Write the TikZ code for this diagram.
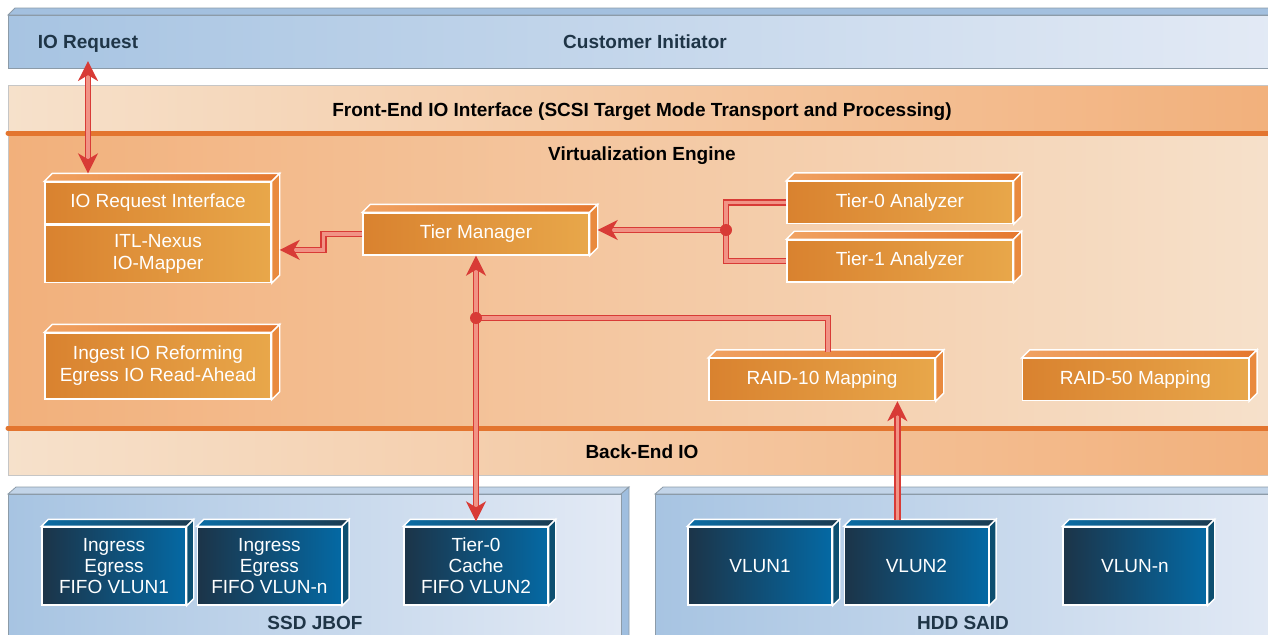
\documentclass[tikz,border=0pt]{standalone}
\usepackage{fontspec}
\setmainfont{Liberation Sans}
\usetikzlibrary{arrows.meta,positioning}

\definecolor{barblueL}{HTML}{A7C4E2}
\definecolor{barblueR}{HTML}{E3EAF5}
\definecolor{bartop}{HTML}{A3C0DF}
\definecolor{bartoplight}{HTML}{C2D4E8}
\definecolor{barside}{HTML}{9FBEDF}
\definecolor{bargray}{HTML}{8C9BA8}
\definecolor{peach}{HTML}{F6E1CB}
\definecolor{apricot}{HTML}{F2B07B}
\definecolor{rule}{HTML}{E3752F}
\definecolor{boxL}{HTML}{D9822F}
\definecolor{boxR}{HTML}{E8A74A}
\definecolor{boxtopL}{HTML}{F0A262}
\definecolor{boxtopR}{HTML}{E5782F}
\definecolor{boxside}{HTML}{E98A3E}
\definecolor{lunL}{HTML}{1C3448}
\definecolor{lunR}{HTML}{0469A4}
\definecolor{luntopL}{HTML}{0B6DA5}
\definecolor{luntopR}{HTML}{1B3A50}
\definecolor{lunside}{HTML}{0D4F70}
\definecolor{linkred}{HTML}{D83B36}
\definecolor{linkpink}{HTML}{F19385}
\definecolor{slate}{HTML}{1F3547}

\begin{document}
\begin{tikzpicture}[x=0.5pt, y=-0.5pt,
    bandlbl/.style={font=\bfseries\fontsize{9.5}{11}\selectfont, text height=7pt, text depth=0pt},
    engbox/.style={draw=white, line width=0.7pt, left color=boxL, right color=boxR, text=white,
      font=\fontsize{9.5}{11}\selectfont, align=center, inner sep=0pt,
      minimum width=113pt, minimum height=21pt},
    lunbox/.style={draw=white, line width=0.7pt, left color=lunL, right color=lunR, text=white,
      font=\fontsize{9.5}{10.5}\selectfont, align=center, inner sep=0pt,
      minimum width=72pt, minimum height=39pt},
    link/.style={draw=linkred, double=linkpink, double distance=1.6pt, line width=0.9pt},
    redtip/.tip={Stealth[length=10pt, width=10pt, inset=3pt]},
    arr/.style={link, -redtip},
    dblarr/.style={link, redtip-redtip},
    joint/.style={circle, fill=linkred, inner sep=0pt, minimum size=6pt}]

    \useasboundingbox (0,0) rectangle (1268,634);
    \clip (0,0) rectangle (1268,634);

    % Customer initiator bar
    \draw[bargray, fill=bartop] (8,15) -- (15,8) -- (1280,8) -- (1280,15) -- cycle;
    \draw[bargray, left color=barblueL, right color=barblueR] (8,15) rectangle (1280,68);

    % Front-end, virtualization and back-end bands
    \fill[left color=peach, right color=apricot] (8,85) rectangle (1280,133);
    \fill[left color=apricot, right color=peach] (8,133) rectangle (1280,428);
    \fill[left color=peach, right color=apricot] (8,428) rectangle (1280,475);
    \draw[gray!45] (1280,85) -- (8,85) -- (8,475) -- (1280,475);
    \draw[rule, line width=2.5pt, line cap=round] (8,133) -- (1280,133);
    \draw[rule, line width=2.5pt, line cap=round] (8,428) -- (1280,428);

    % Storage enclosures
    \foreach \xa/\xb in {8/621, 655/1290} {
        \draw[bargray, fill=bartoplight] (\xa,494) -- ++(8,-7) -- (\xb+8,487) -- (\xb,494) -- cycle;
        \draw[bargray, fill=barside] (\xb,494) -- ++(8,-7) -- (\xb+8,640) -- (\xb,640) -- cycle;
        \draw[bargray, left color=barblueL, right color=barblueR] (\xa,494) rectangle (\xb,640);
    }

    % Band labels
    \node[bandlbl, text=slate] (ioreqlbl) at (88,41) {IO Request};
    \node[bandlbl, text=slate] (custlbl) at (645,41) {Customer Initiator};
    \node[bandlbl] (frontlbl) at (642,109) {Front-End IO Interface (SCSI Target Mode Transport and Processing)};
    \node[bandlbl] (virtlbl) at (642,153) {Virtualization Engine};
    \node[bandlbl] (backlbl) at (642,451) {Back-End IO};
    \node[bandlbl, text=slate] (ssdlbl) at (315,622) {SSD JBOF};
    \node[bandlbl, text=slate] (hddlbl) at (963,622) {HDD SAID};

    % Engine blocks
    \node[engbox] (ioreq) at (158,203) {IO Request Interface};
    \node[engbox, minimum height=28.5pt, below=0pt of ioreq] (itl) {ITL-Nexus\\IO-Mapper};
    \node[engbox] (tiermgr) at (476,234) {Tier Manager};
    \node[engbox] (tier0) at (900,202.5) {Tier-0 Analyzer};
    \node[engbox, below=7.5pt of tier0] (tier1) {Tier-1 Analyzer};
    \node[engbox, minimum height=33pt] (ingest) at (158,366) {Ingest IO Reforming\\Egress IO Read-Ahead};
    \node[engbox] (raid10) at (822,379.5) {RAID-10 Mapping};
    \node[engbox, right=43pt of raid10] (raid50) {RAID-50 Mapping};

    \foreach \ta/\tb in {ioreq/itl, tiermgr/tiermgr, tier0/tier0, tier1/tier1,
                         ingest/ingest, raid10/raid10, raid50/raid50} {
        \draw[white, line width=0.7pt, left color=boxtopL, right color=boxtopR]
            (\ta.north west) -- ++(8,-8) -- ([shift={(8,-8)}]\ta.north east) -- (\ta.north east) -- cycle;
        \draw[white, line width=0.7pt, fill=boxside]
            (\ta.north east) -- ++(8,-8) -- ([shift={(8,-8)}]\tb.south east) -- (\tb.south east) -- cycle;
    }

    % Volume blocks
    \node[lunbox] (ssd1) at (114,566) {Ingress\\Egress\\FIFO VLUN1};
    \node[lunbox, right=5pt of ssd1] (ssdn) {Ingress\\Egress\\FIFO VLUN-n};
    \node[lunbox] (cache) at (476,566) {Tier-0\\Cache\\FIFO VLUN2};
    \node[lunbox] (hdd1) at (760,566) {VLUN1};
    \node[lunbox, right=5.5pt of hdd1] (hdd2) {VLUN2};
    \node[lunbox] (hddn) at (1135,566) {VLUN-n};

    \foreach \n in {ssd1, ssdn, cache, hdd1, hdd2, hddn} {
        \draw[white, line width=0.7pt, left color=luntopL, right color=luntopR]
            (\n.north west) -- ++(7,-7) -- ([shift={(7,-7)}]\n.north east) -- (\n.north east) -- cycle;
        \draw[white, line width=0.7pt, fill=lunside]
            (\n.north east) -- ++(7,-7) -- ([shift={(7,-7)}]\n.south east) -- (\n.south east) -- cycle;
    }

    % Connectors
    \draw[dblarr] ([yshift=-3pt]ioreqlbl.south) -- ([yshift=4pt]ioreq.north -| ioreqlbl.south);
    \draw[arr] (tiermgr.west) -- ++(-39,0) |- ([xshift=4pt,yshift=2pt]itl.east);

    \coordinate (anajoin) at (726,230);
    \draw[link] (tier0.west) -| (anajoin) |- (tier1.west);
    \draw[arr] (anajoin) -- ([xshift=4pt,yshift=2pt]tiermgr.east);
    \node[joint] (anadot) at (anajoin) {};

    \draw[dblarr] (tiermgr.south) -- ([yshift=2.5pt]cache.north);
    \coordinate (raidjoin) at (tiermgr.south |- 0,318);
    \draw[link] (raidjoin) -| ([xshift=3pt,yshift=3pt]raid10.north);
    \node[joint] (raiddot) at (raidjoin) {};

    \draw[arr] ([xshift=-9.5pt,yshift=3pt]hdd2.north) -- ([xshift=-9.5pt]hdd2.north |- raid10.south);
\end{tikzpicture}
\end{document}
